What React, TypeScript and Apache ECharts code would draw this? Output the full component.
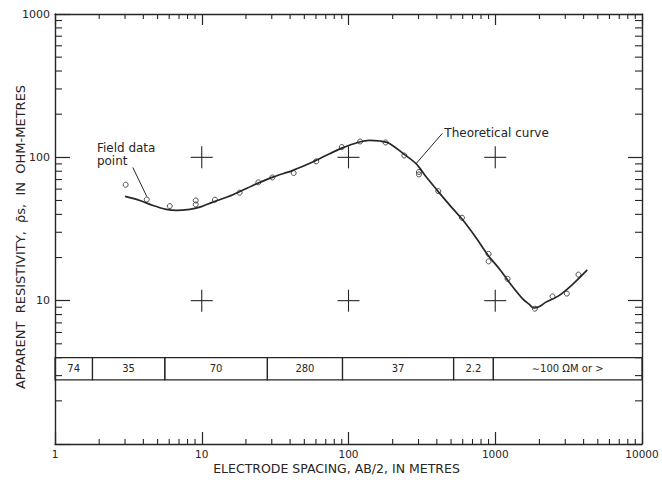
import { useEffect, useRef } from "react";
import * as echarts from "echarts";

// ---- Data ----
const X_MIN = 1;
const X_MAX = 10000;
const Y_MIN = 1;
const Y_MAX = 1000;

// field data points (AB/2 in metres, apparent resistivity in ohm-metres)
const fieldX = [3.03, 4.22, 6.06, 9.1, 9.1, 12.3, 18.1, 24.3, 30.3, 42.3, 60.3, 90, 120, 179, 240, 302, 302, 409, 593, 901, 901, 1213, 1862, 2455, 3076, 3690];
const fieldY = [64.4, 50.8, 45.7, 50.0, 46.9, 50.6, 56.7, 66.9, 72.4, 77.7, 93.8, 118, 129, 127, 103, 79, 76, 58.1, 37.9, 21.2, 18.8, 14.2, 8.79, 10.7, 11.2, 15.2];

// theoretical curve
const curveX = [3.0, 3.79, 4.66, 5.74, 6.71, 8.28, 9.7, 11.9, 16.3, 22.3, 30.5, 41.8, 57, 74.4, 90, 118.6, 139, 162.6, 190, 241, 289, 339, 417, 515, 594, 736, 898, 1066, 1248, 1538, 1700, 1830, 2000, 2200, 2700, 3340, 4235];
const curveY = [53.4, 50.0, 46.1, 43.3, 42.6, 43.3, 44.9, 48.7, 54.8, 63.7, 72.8, 81.1, 92.7, 106, 116, 128, 131.5, 130, 125, 104.5, 90.3, 72.8, 56.3, 43.7, 37.1, 27.7, 20.6, 16.7, 13.4, 10.3, 9.45, 8.89, 9.1, 9.73, 10.8, 12.9, 16.4];

// layered-earth interpretation band
const layerBounds = [1, 1.8, 5.6, 28, 91, 520, 970, 10000];
const layerLabels = ["74", "35", "70", "280", "37", "2.2", "\u223C100 \u03A9M or >"];
const bandBottom = 2.8;
const bandTop = 4.0;

// graph-paper crosses
const crossX = [10, 100, 1000, 10, 100, 1000];
const crossY = [100, 100, 100, 10, 10, 10];

// annotations
const annotText = ["Field data\npoint", "Theoretical curve"];
const annotX = [1.93, 450];
const annotY = [129, 147];
const leaderFromX = [3.39, 436];
const leaderFromY = [85, 147];
const leaderToX = [4.22, 290];
const leaderToY = [53.4, 90.8];

// minor ticks of the log paper
const minorMultiples = [2, 3, 4, 5, 6, 7, 8, 9];
const xDecades = [1, 10, 100, 1000];
const yDecades = [1, 10, 100];

const INK = "#262626";
const FONT = "'DejaVu Sans', sans-serif";

export default function App() {
  const ref = useRef<HTMLDivElement>(null);

  useEffect(() => {
    const chart = echarts.init(ref.current!, null, { renderer: "svg" });

    const xMinor: number[] = [];
    xDecades.forEach((d) => minorMultiples.forEach((m) => xMinor.push(d * m)));
    const yMinor: number[] = [];
    yDecades.forEach((d) => minorMultiples.forEach((m) => yMinor.push(d * m)));

    const lineEl = (x1: number, y1: number, x2: number, y2: number, w = 1.1) => ({
      type: "line",
      shape: { x1, y1, x2, y2 },
      style: { stroke: INK, lineWidth: w },
      silent: true,
    });

    const axisCommon = {
      type: "log",
      logBase: 10,
      splitLine: { show: false },
      axisLine: { show: true, lineStyle: { color: INK, width: 1.4 } },
    };

    const option = {
      animation: false,
      backgroundColor: "#ffffff",
      grid: { left: 55, right: 20, top: 14, bottom: 38, containLabel: false, outerBoundsMode: "none" },
      xAxis: [
        {
          ...axisCommon,
          min: X_MIN,
          max: X_MAX,
          position: "bottom",
          axisTick: { show: true, inside: true, length: 12, lineStyle: { color: INK, width: 1.2 } },
          axisLabel: {
            color: INK,
            fontFamily: FONT,
            fontSize: 10.5,
            margin: 4,
            showMinLabel: true,
            showMaxLabel: true,
            formatter: (v: number) => String(Math.round(v)),
          },
          name: "ELECTRODE SPACING, AB/2, IN METRES",
          nameLocation: "middle",
          nameGap: 18,
          nameMoveOverlap: false,
          nameTextStyle: { color: INK, fontFamily: FONT, fontSize: 12.5, padding: [0, 24, 0, 0] },
        },
        {
          ...axisCommon,
          min: X_MIN,
          max: X_MAX,
          position: "top",
          axisTick: { show: true, inside: true, length: 11, lineStyle: { color: INK, width: 1.2 } },
          axisLabel: { show: false },
        },
      ],
      yAxis: [
        {
          ...axisCommon,
          min: Y_MIN,
          max: Y_MAX,
          position: "left",
          axisTick: { show: true, inside: true, length: 15, lineStyle: { color: INK, width: 1.2 } },
          axisLabel: {
            color: INK,
            fontFamily: FONT,
            fontSize: 11,
            margin: 5,
            formatter: (v: number) => (Math.round(v) === 1 ? "" : String(Math.round(v))),
          },
          name: "APPARENT  RESISTIVITY,  \u03C1\u0304s,  IN  OHM-METRES",
          nameLocation: "middle",
          nameGap: 28,
          nameMoveOverlap: false,
          nameRotate: 90,
          nameTextStyle: { color: INK, fontFamily: FONT, fontSize: 13, padding: [0, 16, 0, 0] },
        },
        {
          ...axisCommon,
          min: Y_MIN,
          max: Y_MAX,
          position: "right",
          axisTick: { show: true, inside: true, length: 14, lineStyle: { color: INK, width: 1.2 } },
          axisLabel: { show: false },
        },
      ],
      series: [
        // minor ticks on x (bottom and top)
        {
          type: "custom",
          xAxisIndex: 0,
          yAxisIndex: 0,
          silent: true,
          data: xMinor.map((v) => [v, Y_MIN]),
          renderItem: (_p: any, api: any) => {
            const v = api.value(0);
            const b = api.coord([v, Y_MIN]);
            const t = api.coord([v, Y_MAX]);
            return {
              type: "group",
              children: [lineEl(b[0], b[1], b[0], b[1] - 5), lineEl(t[0], t[1], t[0], t[1] + 5)],
            };
          },
        },
        // minor ticks on y (left and right)
        {
          type: "custom",
          xAxisIndex: 0,
          yAxisIndex: 0,
          silent: true,
          data: yMinor.map((v) => [X_MIN, v]),
          renderItem: (_p: any, api: any) => {
            const v = api.value(1);
            const l = api.coord([X_MIN, v]);
            const r = api.coord([X_MAX, v]);
            return {
              type: "group",
              children: [lineEl(l[0], l[1], l[0] + 7, l[1]), lineEl(r[0], r[1], r[0] - 7, r[1])],
            };
          },
        },
        // graph paper crosses
        {
          type: "custom",
          xAxisIndex: 0,
          yAxisIndex: 0,
          silent: true,
          data: crossX.map((x, i) => [x, crossY[i]]),
          renderItem: (_p: any, api: any) => {
            const c = api.coord([api.value(0), api.value(1)]);
            return {
              type: "group",
              children: [
                lineEl(c[0] - 11, c[1], c[0] + 11, c[1], 1.1),
                lineEl(c[0], c[1] - 11, c[0], c[1] + 11, 1.1),
              ],
            };
          },
        },
        // layered earth band
        {
          type: "custom",
          xAxisIndex: 0,
          yAxisIndex: 0,
          silent: true,
          encode: { x: [0, 2], y: [1, 3] },
          data: layerLabels.map((_l, i) => [layerBounds[i], bandBottom, layerBounds[i + 1], bandTop]),
          renderItem: (p: any, api: any) => {
            const a = api.coord([api.value(0), api.value(3)]);
            const b = api.coord([api.value(2), api.value(1)]);
            return {
              type: "group",
              children: [
                {
                  type: "rect",
                  shape: { x: a[0], y: a[1], width: b[0] - a[0], height: b[1] - a[1] },
                  style: { fill: "none", stroke: INK, lineWidth: 1.2 },
                },
                {
                  type: "text",
                  style: {
                    text: layerLabels[p.dataIndex],
                    x: (a[0] + b[0]) / 2,
                    y: (a[1] + b[1]) / 2,
                    fill: INK,
                    font: `10px ${FONT}`,
                    align: "center",
                    verticalAlign: "middle",
                    textAlign: "center",
                    textVerticalAlign: "middle",
                  },
                },
              ],
            };
          },
        },
        // theoretical curve
        {
          type: "line",
          xAxisIndex: 0,
          yAxisIndex: 0,
          data: curveX.map((x, i) => [x, curveY[i]]),
          showSymbol: false,
          smooth: 0.3,
          silent: true,
          lineStyle: { color: INK, width: 1.7 },
          z: 4,
        },
        // field data points
        {
          type: "scatter",
          xAxisIndex: 0,
          yAxisIndex: 0,
          data: fieldX.map((x, i) => [x, fieldY[i]]),
          symbol: "circle",
          symbolSize: 5,
          silent: true,
          itemStyle: { color: "rgba(255,255,255,0)", borderColor: INK, borderWidth: 1 },
          z: 5,
        },
        // annotations
        {
          type: "custom",
          xAxisIndex: 0,
          yAxisIndex: 0,
          silent: true,
          data: annotX.map((x, i) => [x, annotY[i]]),
          renderItem: (p: any, api: any) => {
            const i = p.dataIndex;
            const c = api.coord([api.value(0), api.value(1)]);
            const f = api.coord([leaderFromX[i], leaderFromY[i]]);
            const t = api.coord([leaderToX[i], leaderToY[i]]);
            const top = i === 0;
            return {
              type: "group",
              children: [
                {
                  type: "text",
                  style: {
                    text: annotText[i],
                    x: c[0],
                    y: c[1],
                    fill: INK,
                    font: `12px ${FONT}`,
                    lineHeight: 13,
                    align: "left",
                    textAlign: "left",
                    verticalAlign: top ? "top" : "middle",
                    textVerticalAlign: top ? "top" : "middle",
                  },
                },
                lineEl(f[0], f[1], t[0], t[1], 1),
              ],
            };
          },
        },
      ],
    };

    chart.setOption(option as any);
    return () => chart.dispose();
  }, []);

  return (
    <div
      ref={ref}
      style={{ position: "fixed", left: 0, top: 0, width: 662, height: 482, background: "#fff" }}
    />
  );
}
